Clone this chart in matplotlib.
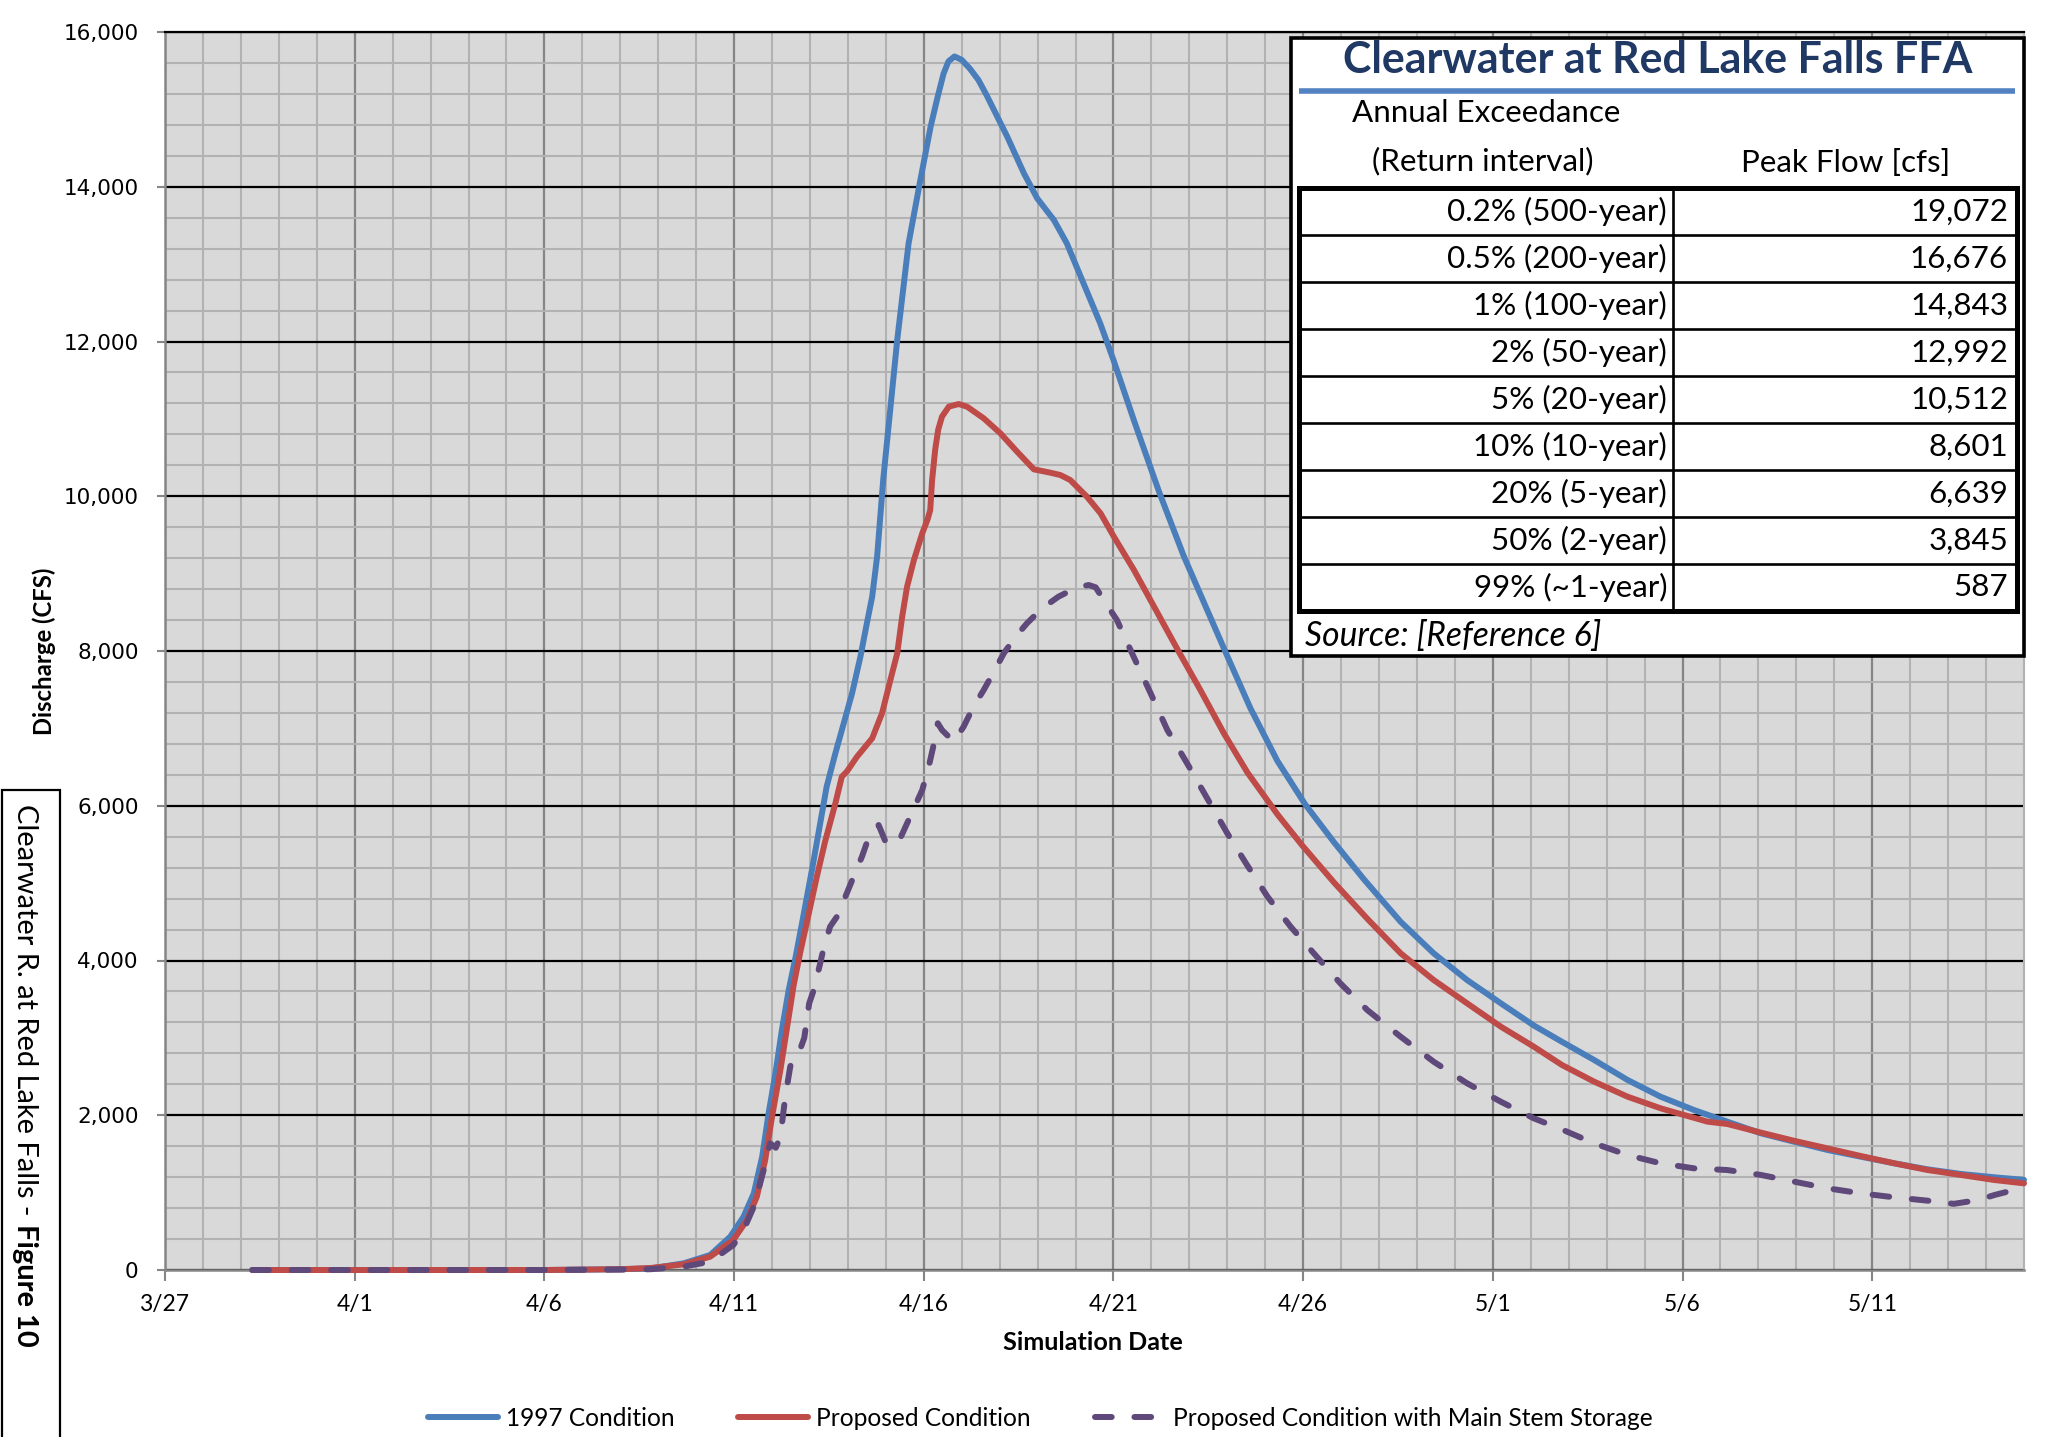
import matplotlib
matplotlib.use('Agg')
import matplotlib.pyplot as plt
from matplotlib.patches import Rectangle
from matplotlib.lines import Line2D
from matplotlib.ticker import MultipleLocator, FixedLocator, FuncFormatter

# ---------------- data ----------------
# x values: days after 3/27
tick_days = [0, 5, 10, 15, 20, 25, 30, 35, 40, 45]
tick_labels = ['3/27', '4/1', '4/6', '4/11', '4/16', '4/21', '4/26', '5/1', '5/6', '5/11']

days_1997 = [2.30, 6, 10, 12, 12.8, 13.67, 14.37, 14.9, 15.25, 15.52, 15.74, 15.91, 16.09,
             16.26, 16.44, 16.62, 16.79, 17.06, 17.27, 17.44, 17.67, 17.89, 18.11, 18.33,
             18.50, 18.64, 18.77, 18.93, 19.30, 19.60, 19.91, 20.18, 20.36, 20.52, 20.65,
             20.81, 21.0, 21.22, 21.44, 21.66, 22.20, 22.64, 22.99, 23.43, 23.77, 24.21,
             24.65, 25.0, 25.54, 26.20, 26.85, 27.47, 27.95, 28.61, 29.32, 30.05, 30.81,
             31.60, 32.57, 33.44, 34.32, 35.21, 36.08, 36.82, 37.67, 38.55, 39.42, 40.30,
             41.18, 42.07, 42.94, 43.82, 44.70, 45.58, 46.46, 47.34, 48.22, 49.0]
flow_1997 = [0, 0, 0, 10, 20, 86, 194, 431, 689, 991, 1464, 2025, 2542,
             3102, 3619, 4040, 4480, 5190, 5773, 6247, 6678, 7065, 7453, 7927,
             8358, 8702, 9219, 10210, 12019, 13269, 14087, 14776, 15150, 15460, 15620,
             15684, 15640, 15524, 15380, 15180, 14647, 14173, 13850, 13570, 13269, 12752,
             12235, 11761, 10980, 10060, 9230, 8530, 7990, 7260, 6580, 6020, 5530,
             5050, 4500, 4093, 3748, 3447, 3160, 2950, 2714, 2456, 2240, 2068,
             1917, 1766, 1658, 1551, 1464, 1379, 1301, 1241, 1198, 1165]

days_prop = [2.30, 6, 10, 12, 12.8, 13.67, 14.37, 14.98, 15.34, 15.60, 15.82, 16.0, 16.22,
             16.40, 16.57, 16.75, 16.93, 17.18, 17.40, 17.67, 17.84, 17.97, 18.24, 18.64,
             18.90, 19.12, 19.30, 19.43, 19.56, 19.74, 19.96, 20.10, 20.17, 20.22, 20.30,
             20.38, 20.48, 20.66, 20.92, 21.14, 21.58, 22.02, 22.46, 22.90, 23.34, 23.60,
             23.86, 24.30, 24.66, 25.01, 25.54, 26.07, 26.72, 27.29, 27.91, 28.53, 29.32,
             29.97, 30.81, 31.69, 32.57, 33.44, 34.32, 35.21, 36.08, 36.82, 37.67, 38.55,
             39.42, 40.04, 40.66, 41.18, 42.07, 42.94, 43.82, 44.70, 45.58, 46.46, 47.34,
             48.22, 49.0]
flow_prop = [0, 0, 0, 10, 26, 73, 172, 388, 646, 947, 1422, 1981, 2585,
             3145, 3680, 4120, 4520, 5080, 5540, 6031, 6376, 6440, 6634, 6872,
             7195, 7625, 7970, 8443, 8831, 9176, 9521, 9700, 9822, 10210, 10600,
             10860, 11029, 11158, 11192, 11158, 11007, 10813, 10576, 10348, 10304, 10274,
             10210, 9994, 9779, 9478, 9047, 8573, 7992, 7496, 6936, 6430, 5890,
             5490, 5010, 4540, 4093, 3748, 3447, 3145, 2886, 2650, 2434, 2240,
             2090, 2003, 1917, 1887, 1775, 1670, 1572, 1473, 1379, 1292, 1228,
             1163, 1120]

days_mss = [2.30, 6, 10, 12, 12.79, 13.67, 14.37, 14.98, 15.25, 15.52, 15.78, 15.95, 16.10,
            16.22, 16.35, 16.48, 16.57, 16.74, 16.85, 16.98, 17.10, 17.27, 17.36, 17.53,
            17.71, 17.97, 18.15, 18.37, 18.54, 18.81, 18.99, 19.16, 19.34, 19.52, 19.78,
            19.96, 20.13, 20.27, 20.37, 20.48, 20.79, 21.05, 21.31, 21.58, 21.85, 22.11,
            22.42, 22.72, 23.12, 23.55, 24.04, 24.35, 24.53, 24.83, 25.09, 25.49, 25.98,
            26.42, 26.94, 27.47, 28.0, 28.50, 29.06, 29.67, 30.28, 30.98, 31.69, 32.57,
            33.44, 34.32, 35.21, 36.08, 36.85, 37.67, 38.55, 39.42, 40.30, 41.18, 42.07,
            42.94, 43.82, 44.70, 45.58, 46.46, 47.15, 47.8, 48.22, 48.74, 49.0]
flow_mss = [0, 0, 0, 5, 10, 43, 108, 323, 517, 818, 1292, 1637, 1580,
            1723, 2240, 2628, 2757, 2850, 3000, 3447, 3619, 3964, 4157, 4437,
            4566, 4868, 5083, 5342, 5579, 5751, 5536, 5490, 5536, 5730, 6010,
            6204, 6505, 6807, 7066, 6979, 6828, 7022, 7280, 7496, 7733, 7970,
            8185, 8358, 8552, 8702, 8823, 8853, 8823, 8594, 8401, 7970, 7453,
            6979, 6549, 6096, 5644, 5250, 4825, 4437, 4093, 3705, 3360, 3015,
            2692, 2413, 2175, 1960, 1810, 1637, 1486, 1379, 1314, 1292, 1228,
            1142, 1056, 991, 939, 896, 855, 905, 969, 1034, 1070]

series_names = ['1997 Condition', 'Proposed Condition', 'Proposed Condition with Main Stem Storage']

table_title = 'Clearwater at Red Lake Falls FFA'
aep_labels = ['0.2% (500-year)', '0.5% (200-year)', '1% (100-year)', '2% (50-year)',
              '5% (20-year)', '10% (10-year)', '20% (5-year)', '50% (2-year)', '99% (~1-year)']
peak_flows = [19072, 16676, 14843, 12992, 10512, 8601, 6639, 3845, 587]

# ---------------- figure ----------------
W, H = 2070, 1437
fig = plt.figure(figsize=(W / 100, H / 100), dpi=100)
fig.patch.set_facecolor('white')
renderer = fig.canvas.get_renderer()


def fx(x):
    return x / W


def fy(y):
    return 1 - y / H


def fit(text, target_w, **kw):
    t = fig.text(0, 0, text, fontsize=20, **kw)
    w = t.get_window_extent(renderer).width
    t.remove()
    return 20 * target_w / w


SANS = ['Lato', 'DejaVu Sans']

ax = fig.add_axes([fx(165), fy(1270), (2024 - 165) / W, (1270 - 32) / H])
ax.set_facecolor('#D9D9D9')
ax.set_xlim(0, 49)
ax.set_ylim(0, 16000)

ax.xaxis.set_major_locator(FixedLocator(tick_days))
ax.set_xticks(tick_days)
ax.set_xticklabels(tick_labels)
ax.xaxis.set_minor_locator(MultipleLocator(1))
ax.yaxis.set_major_locator(MultipleLocator(2000))
ax.yaxis.set_minor_locator(MultipleLocator(400))
ax.yaxis.set_major_formatter(FuncFormatter(lambda v, p: f'{int(v):,}'))

ax.set_axisbelow(True)
ax.grid(which='minor', color='#B2B2B2', lw=1.5)
ax.grid(which='major', axis='x', color='#858585', lw=1.6)
ax.grid(which='major', axis='y', color='#000000', lw=1.6)

for s in ['left', 'bottom']:
    ax.spines[s].set_color('#868686')
    ax.spines[s].set_linewidth(1.8)
ax.spines['top'].set_color('black')
ax.spines['top'].set_linewidth(1.6)
ax.spines['right'].set_color('#B2B2B2')
ax.spines['right'].set_linewidth(1.5)

xfs = fit('4/11', 50, family=SANS)
ax.tick_params(axis='x', which='major', length=8, width=1.5, color='#868686', pad=9,
               labelsize=xfs)
ax.tick_params(axis='y', which='major', length=6, width=1.5, color='#868686', pad=13,
               labelsize=15.5)
ax.tick_params(which='minor', length=0)
for lab in ax.get_xticklabels():
    lab.set_family(SANS)
for lab in ax.get_yticklabels():
    lab.set_family('DejaVu Sans')

l1, = ax.plot(days_1997, flow_1997, color='#4A7EBB', lw=4.3, solid_joinstyle='round',
              solid_capstyle='round', clip_on=False, label=series_names[0], zorder=3)
l2, = ax.plot(days_prop, flow_prop, color='#BE4B48', lw=4.3, solid_joinstyle='round',
              solid_capstyle='round', clip_on=False, label=series_names[1], zorder=4)
l3, = ax.plot(days_mss, flow_mss, color='#5F497A', lw=4.3, dashes=(2.8, 3.8),
              dash_capstyle='round', dash_joinstyle='round', clip_on=False,
              label=series_names[2], zorder=5)

# axis titles
lab_fs = fit('Simulation Date', 179, family=SANS, weight='bold')
fig.text(fx(1093), fy(1343), 'Simulation Date', ha='center', va='center',
         fontsize=lab_fs, family=SANS, weight='bold')
fig.text(fx(44), fy(651), 'Discharge (CFS)', ha='center', va='center', rotation=90,
         fontsize=lab_fs * 0.95, family=SANS, weight='bold')

# legend
lfs = fit(series_names[2], 481, family=SANS)
fpx = lfs * 100 / 72
leg = fig.legend(handles=[l1, l2, l3], loc='center', ncol=3, frameon=False,
                 bbox_to_anchor=(fx(1040), fy(1418)), prop={'family': SANS, 'size': lfs},
                 handlelength=70 / fpx, handletextpad=8 / fpx, columnspacing=64 / fpx,
                 borderaxespad=0, borderpad=0)

# ---------------- FFA table ----------------
Z = 20
fig.add_artist(Rectangle((fx(1291), fy(656)), (2024 - 1291) / W, (656 - 38) / H,
                         transform=fig.transFigure, facecolor='white', edgecolor='black',
                         lw=2.6, zorder=Z))
tfs = fit(table_title, 630, family=SANS, weight='bold')
fig.text(fx(1658), fy(60), table_title, ha='center', va='center', fontsize=tfs,
         family=SANS, weight='bold', color='#1F3864', zorder=Z + 2)
fig.add_artist(Line2D([fx(1299), fx(2015)], [fy(90.5), fy(90.5)], transform=fig.transFigure,
                      color='#5282C2', lw=4, solid_capstyle='butt', zorder=Z + 1))
hfs = fit('Annual Exceedance', 270, family=SANS)
fig.text(fx(1352), fy(113), 'Annual Exceedance', ha='left', va='center', fontsize=hfs,
         family=SANS, zorder=Z + 2)
fig.text(fx(1372), fy(161), '(Return interval)', ha='left', va='center', fontsize=hfs,
         family=SANS, zorder=Z + 2)
fig.text(fx(1741), fy(163), 'Peak Flow [cfs]', ha='left', va='center', fontsize=hfs,
         family=SANS, zorder=Z + 2)

top, bot, left, right, mid = 188, 611, 1299, 2017, 1673
nrows = len(aep_labels)
rh = (bot - top) / nrows
fig.add_artist(Rectangle((fx(left), fy(bot)), (right - left) / W, (bot - top) / H,
                         transform=fig.transFigure, facecolor='white', edgecolor='black',
                         lw=3.6, zorder=Z + 1))
for k in range(1, nrows):
    yy = top + k * rh
    fig.add_artist(Line2D([fx(left), fx(right)], [fy(yy), fy(yy)], transform=fig.transFigure,
                          color='black', lw=1.9, zorder=Z + 1))
fig.add_artist(Line2D([fx(mid), fx(mid)], [fy(top), fy(bot)], transform=fig.transFigure,
                      color='black', lw=1.9, zorder=Z + 1))
rfs = fit(aep_labels[0], 220, family=SANS)
for k, (lab, val) in enumerate(zip(aep_labels, peak_flows)):
    yc = top + (k + 0.5) * rh
    fig.text(fx(1667), fy(yc), lab, ha='right', va='center', fontsize=rfs, family=SANS,
             zorder=Z + 2)
    fig.text(fx(2008), fy(yc), f'{val:,}', ha='right', va='center', fontsize=rfs,
             family=SANS, zorder=Z + 2)
sfs = fit('Source: [Reference 6]', 296, family=SANS, style='italic')
fig.text(fx(1305), fy(636), 'Source: [Reference 6]', ha='left', va='center', fontsize=sfs,
         family=SANS, style='italic', zorder=Z + 2)

# ---------------- side caption ----------------
fig.add_artist(Rectangle((fx(2), fy(1450)), (60 - 2) / W, (1450 - 790) / H,
                         transform=fig.transFigure, facecolor='white', edgecolor='black',
                         lw=1.6, clip_on=False, zorder=Z))
part1 = 'Clearwater R. at Red Lake Falls -'
part2 = 'Figure 10'
t1 = fig.text(0, 0, part1, fontsize=20, family=SANS)
w1 = t1.get_window_extent(renderer).width
t1.remove()
t2 = fig.text(0, 0, part2, fontsize=20, family=SANS, weight='bold')
w2 = t2.get_window_extent(renderer).width
t2.remove()
cfs = 20 * 540 / (w1 + w2 + 6)
t1 = fig.text(fx(25), fy(804), part1, rotation=270, ha='center', va='top', fontsize=cfs,
              family=SANS, zorder=Z + 2)
bb = t1.get_window_extent(renderer)
gap = cfs * 100 / 72 * 0.3
fig.text(fx(25), (bb.y0 - gap) / H, part2, rotation=270, ha='center', va='top',
         fontsize=cfs, family=SANS, weight='bold', zorder=Z + 2)

fig.savefig('out.png', dpi=100)
